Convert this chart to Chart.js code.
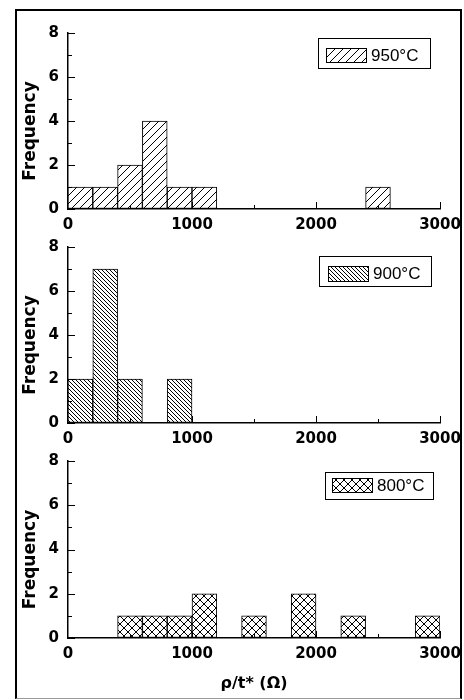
<!DOCTYPE html>
<html>
<head>
<meta charset="utf-8">
<script src="https://cdn.jsdelivr.net/npm/chart.js@4/dist/chart.umd.min.js"></script>
<style>
  body { margin: 0; background: #fff; }
  #wrap { position: relative; width: 464px; height: 700px; overflow: hidden; }
  #wrap canvas { position: absolute; left: 0; top: 0; }
  #frame { position: absolute; left: 15px; top: 9px; width: 443px; height: 687px;
           border: 2px solid #000; border-bottom: 1px solid #999; pointer-events: none; }
  #cover { position: absolute; left: 462px; top: 0; width: 2px; height: 700px; background: #fff; }
</style>
</head>
<body>
<div id="wrap">
  <canvas id="c950" width="464" height="700"></canvas>
  <canvas id="c900" width="464" height="700"></canvas>
  <canvas id="c800" width="464" height="700"></canvas>
  <div id="cover"></div>
  <div id="frame"></div>
</div>
<script>
// histogram bins, 200 ohm wide, starting at 0
const binStarts = [0, 200, 400, 600, 800, 1000, 1200, 1400, 1600, 1800, 2000, 2200, 2400, 2600, 2800];
const counts950 = [1, 1, 2, 4, 1, 1, 0, 0, 0, 0, 0, 0, 1, 0, 0];
const counts900 = [2, 7, 2, 0, 2, 0, 0, 0, 0, 0, 0, 0, 0, 0, 0];
const counts800 = [0, 0, 1, 1, 1, 2, 0, 1, 0, 2, 0, 1, 0, 0, 1];
const xTicks = [0, 1000, 2000, 3000];
const yTicks = [0, 2, 4, 6, 8];

const boldFont = { family: 'DejaVu Sans', weight: 'bold', size: 15 };

function hatch(kind, size) {
  const c = document.createElement('canvas');
  c.width = c.height = size;
  const g = c.getContext('2d');
  g.fillStyle = '#fff';
  g.fillRect(0, 0, size, size);
  g.strokeStyle = '#000';
  g.lineWidth = 1;
  g.beginPath();
  if (kind.includes('/')) {
    g.moveTo(0, size); g.lineTo(size, 0);
    g.moveTo(-1, 1); g.lineTo(1, -1);
    g.moveTo(size - 1, size + 1); g.lineTo(size + 1, size - 1);
  }
  if (kind.includes('\\')) {
    g.moveTo(0, 0); g.lineTo(size, size);
    g.moveTo(size - 1, -1); g.lineTo(size + 1, 1);
    g.moveTo(-1, size - 1); g.lineTo(1, size + 1);
  }
  g.stroke();
  return g.createPattern(c, 'repeat');
}

// inner tick marks, y title and boxed legend
const extras = {
  id: 'extras',
  afterDraw(chart, args, opts) {
    const ctx = chart.ctx;
    const y = chart.scales.y, x = chart.scales.x2;
    ctx.save();
    ctx.strokeStyle = '#000';
    ctx.lineWidth = 1;
    ctx.beginPath();
    for (let v = 0; v <= 8; v++) {
      const py = Math.round(y.getPixelForValue(v)) + 0.5;
      const len = v % 2 === 0 ? 7 : 4;
      ctx.moveTo(chart.chartArea.left, py);
      ctx.lineTo(chart.chartArea.left + len, py);
    }
    for (let v = 500; v <= 3000; v += 500) {
      const px = Math.round(x.getPixelForValue(v)) + 0.5;
      const len = v % 1000 === 0 ? 7 : 4;
      ctx.moveTo(px, chart.chartArea.bottom);
      ctx.lineTo(px, chart.chartArea.bottom - len);
    }
    ctx.stroke();

    // y title
    ctx.fillStyle = '#000';
    ctx.font = 'bold 17px "DejaVu Sans"';
    ctx.textAlign = 'center';
    ctx.textBaseline = 'middle';
    ctx.translate(31, (chart.chartArea.top + chart.chartArea.bottom) / 2 + 10);
    ctx.rotate(-Math.PI / 2);
    ctx.fillText('Frequency', 0, 0);
    ctx.setTransform(1, 0, 0, 1, 0, 0);

    // legend box
    const [bx, by, bw, bh] = opts.box;
    const [sx, sy, sw, sh] = opts.swatch;
    ctx.strokeRect(bx + 0.5, by + 0.5, bw, bh);
    ctx.fillStyle = opts.pattern;
    ctx.fillRect(sx, sy, sw, sh);
    ctx.strokeRect(sx + 0.5, sy + 0.5, sw, sh);
    ctx.fillStyle = '#000';
    ctx.font = '17px "Liberation Sans"';
    ctx.textAlign = 'left';
    ctx.fillText(opts.text, sx + sw + 5, sy + sh / 2 + 1);
    ctx.restore();
  }
};

function panel(id, counts, pattern, text, box, swatch, top, bottomPad, withTitle) {
  new Chart(document.getElementById(id), {
    type: 'bar',
    data: {
      labels: binStarts,
      datasets: [{
        data: counts,
        backgroundColor: pattern,
        borderColor: '#000',
        borderWidth: 1,
        borderSkipped: false,
        barPercentage: 1,
        categoryPercentage: 1
      }]
    },
    options: {
      responsive: false,
      animation: false,
      layout: { padding: { left: 18, right: 24, top: top, bottom: bottomPad } },
      plugins: {
        legend: { display: false },
        tooltip: { enabled: false },
        extras: { text, box, swatch, pattern }
      },
      scales: {
        x: { display: false },
        x2: {
          type: 'linear',
          position: 'bottom',
          offset: false,
          min: 0,
          max: 3000,
          afterBuildTicks: s => { s.ticks = xTicks.map(v => ({ value: v })); },
          afterFit: s => { s.height = withTitle ? 55 : 30; s.paddingRight = 0; },
          grid: { drawOnChartArea: false, drawTicks: false, offset: false },
          border: { color: '#000', width: 1.5 },
          ticks: { color: '#000', font: boldFont, padding: 7, maxRotation: 0, callback: v => String(v) },
          title: {
            display: withTitle,
            text: 'ρ/t* (Ω)',
            color: '#000',
            font: { family: 'DejaVu Sans', weight: 'bold', size: 16 },
            padding: 0
          }
        },
        y: {
          min: 0,
          max: 8,
          afterBuildTicks: s => { s.ticks = yTicks.map(v => ({ value: v })); },
          afterFit: s => { s.width = 50; },
          grid: { drawOnChartArea: false, drawTicks: false },
          border: { color: '#000', width: 1.5 },
          ticks: { color: '#000', font: boldFont, padding: 9 }
        }
      }
    },
    plugins: [extras]
  });
}

panel('c950', counts950, hatch('/', 8), '950°C', [318, 38, 112, 30], [326, 48, 40, 14], 33, 461, false);
panel('c900', counts900, hatch('\\', 4), '900°C', [319, 256, 112, 30], [328, 266, 40, 15], 247, 247, false);
panel('c800', counts800, hatch('/\\', 8), '800°C', [325, 472, 108, 27], [332, 478, 40, 14], 461, 7, true);
</script>
</body>
</html>
